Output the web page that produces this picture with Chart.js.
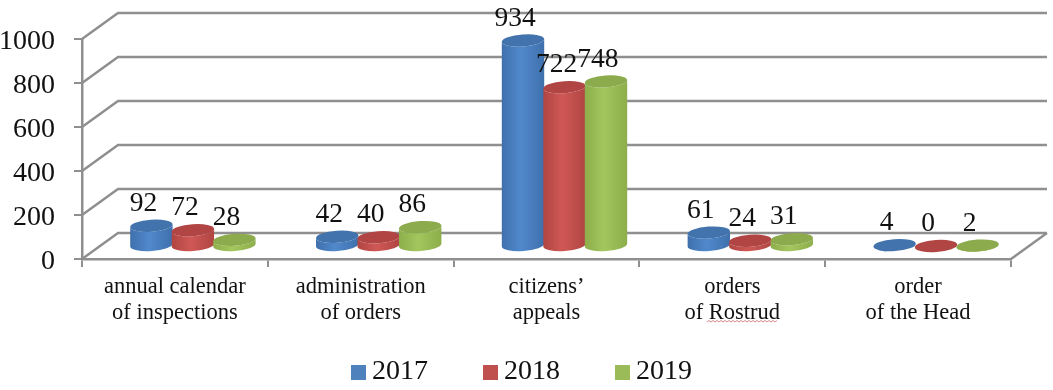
<!DOCTYPE html>
<html>
<head>
<meta charset="utf-8">
<title>Inspections chart</title>
<script src="https://cdn.jsdelivr.net/npm/chart.js@4"></script>
<style>
  html, body { margin: 0; padding: 0; background: #fff; }
  canvas { display: block; }
</style>
</head>
<body>
<canvas id="chart" width="1053" height="390"></canvas>
<script>
const categories = [
  ['annual calendar', 'of inspections'],
  ['administration', 'of orders'],
  ['citizens’', 'appeals'],
  ['orders', 'of Rostrud'],
  ['order', 'of the Head'],
];
const years = ['2017', '2018', '2019'];
const values2017 = [92, 42, 934, 61, 4];
const values2018 = [72, 40, 722, 24, 0];
const values2019 = [28, 86, 748, 31, 2];
const yTicks = [0, 200, 400, 600, 800, 1000];

const FONT = '"Liberation Serif", "Times New Roman", serif';
const GREY = '#8f8f8f';
// depth of the fake 3d box, the bars stand half way back
const DEPTH_X = 36;
const DEPTH_Y = -26;

const palette = [
  { swatch: '#4f81bd', edge: '#3f70ac', mid: '#5089cc', top: '#4273ad' },
  { swatch: '#c0504d', edge: '#b04542', mid: '#cf5855', top: '#b04543' },
  { swatch: '#9bbb59', edge: '#8dae4b', mid: '#a3c65e', top: '#8cab4c' },
];

function drawWalls(chart) {
  const { ctx, chartArea, scales } = chart;
  ctx.save();
  ctx.strokeStyle = GREY;
  ctx.lineWidth = 2.5;
  yTicks.forEach((v) => {
    const y = scales.y.getPixelForValue(v);
    ctx.beginPath();
    ctx.moveTo(chartArea.left, y);
    ctx.lineTo(chartArea.left + DEPTH_X, y + DEPTH_Y);
    ctx.lineTo(chartArea.right + DEPTH_X, y + DEPTH_Y);
    ctx.stroke();
  });
  const y0 = scales.y.getPixelForValue(0);
  ctx.beginPath();
  ctx.moveTo(chartArea.right, y0);
  ctx.lineTo(chartArea.right + DEPTH_X, y0 + DEPTH_Y);
  ctx.stroke();
  ctx.restore();
}

function drawCylinder(ctx, bar, colors) {
  const cx = bar.x + DEPTH_X / 2;
  const top = bar.y + DEPTH_Y / 2;
  const bottom = bar.base + DEPTH_Y / 2;
  const rx = bar.width / 2 + 0.5;
  const ry = 6;
  const tilt = -0.07;

  const grad = ctx.createLinearGradient(cx - rx, 0, cx + rx, 0);
  grad.addColorStop(0, colors.edge);
  grad.addColorStop(0.45, colors.mid);
  grad.addColorStop(1, colors.edge);

  ctx.save();
  ctx.fillStyle = grad;
  ctx.beginPath();
  ctx.ellipse(cx, bottom, rx, ry, tilt, 0, Math.PI);
  ctx.ellipse(cx, top, rx, ry, tilt, Math.PI, 0, true);
  ctx.closePath();
  ctx.fill();

  ctx.fillStyle = colors.top;
  ctx.beginPath();
  ctx.ellipse(cx, top, rx, ry, tilt, 0, Math.PI * 2);
  ctx.fill();
  ctx.restore();
}

// green has to overlap red and red overlap blue, so bars go first to last
const cylinders = {
  id: 'cylinders',
  beforeDatasetsDraw(chart) {
    drawWalls(chart);
    chart.data.datasets.forEach((ds, i) => {
      chart.getDatasetMeta(i).data.forEach((el) => {
        drawCylinder(chart.ctx, el.getProps(['x', 'y', 'base', 'width']), palette[i]);
      });
    });
    return false;
  },
};

const valueLabels = {
  id: 'valueLabels',
  afterDraw(chart) {
    const { ctx } = chart;
    ctx.save();
    ctx.font = '27.5px ' + FONT;
    ctx.fillStyle = '#111';
    ctx.textAlign = 'center';
    ctx.textBaseline = 'middle';
    chart.data.datasets.forEach((ds, i) => {
      chart.getDatasetMeta(i).data.forEach((el, j) => {
        ctx.fillText(ds.data[j], el.x + 10, el.y - 35);
      });
    });
    ctx.restore();
  },
};

const bottomLegend = {
  id: 'bottomLegend',
  afterDraw(chart) {
    const { ctx } = chart;
    ctx.save();
    ctx.font = '28px ' + FONT;
    ctx.textBaseline = 'middle';
    ctx.textAlign = 'left';
    chart.data.datasets.forEach((ds, i) => {
      const x = 351 + i * 132;
      ctx.fillStyle = palette[i].swatch;
      ctx.fillRect(x, 365, 15, 15);
      ctx.fillStyle = '#111';
      ctx.fillText(ds.label, x + 21, 372);
    });
    ctx.restore();
  },
};

// the spell check squiggle under Rostrud is part of the screenshot
const squiggle = {
  id: 'squiggle',
  afterDraw(chart) {
    const { ctx } = chart;
    ctx.save();
    ctx.strokeStyle = '#e08a8a';
    ctx.lineWidth = 1;
    ctx.beginPath();
    for (let x = 707, up = false; x <= 778; x += 2, up = !up) {
      ctx.lineTo(x, up ? 320.5 : 322);
    }
    ctx.stroke();
    ctx.restore();
  },
};

new Chart(document.getElementById('chart'), {
  type: 'bar',
  data: {
    labels: categories,
    datasets: [
      { label: years[0], data: values2017, backgroundColor: palette[0].swatch },
      { label: years[1], data: values2018, backgroundColor: palette[1].swatch },
      { label: years[2], data: values2019, backgroundColor: palette[2].swatch },
    ],
  },
  options: {
    responsive: false,
    animation: false,
    layout: { padding: { top: 39, right: 42, left: 0, bottom: 0 } },
    categoryPercentage: 0.67,
    barPercentage: 1,
    plugins: {
      legend: { display: false },
      tooltip: { enabled: false },
    },
    scales: {
      x: {
        afterFit: (scale) => { scale.height = 131; },
        border: { color: GREY, width: 2.5 },
        grid: { color: GREY, lineWidth: 2, drawOnChartArea: false, tickLength: 8 },
        ticks: {
          color: '#111',
          padding: 7,
          maxRotation: 0,
          autoSkip: false,
          font: { family: FONT, size: 22.5, lineHeight: 26 / 22.5 },
        },
      },
      y: {
        min: 0,
        max: 1000,
        afterFit: (scale) => { scale.width = 82; },
        afterBuildTicks: (scale) => { scale.ticks = yTicks.map((v) => ({ value: v })); },
        border: { color: GREY, width: 2.5 },
        grid: { color: GREY, lineWidth: 2, drawOnChartArea: false, tickLength: 8 },
        ticks: {
          color: '#111',
          padding: 19,
          labelOffset: 3,
          autoSkip: false,
          callback: (v) => String(v),
          font: { family: FONT, size: 28 },
        },
      },
    },
  },
  plugins: [cylinders, valueLabels, bottomLegend, squiggle],
});
</script>
</body>
</html>
